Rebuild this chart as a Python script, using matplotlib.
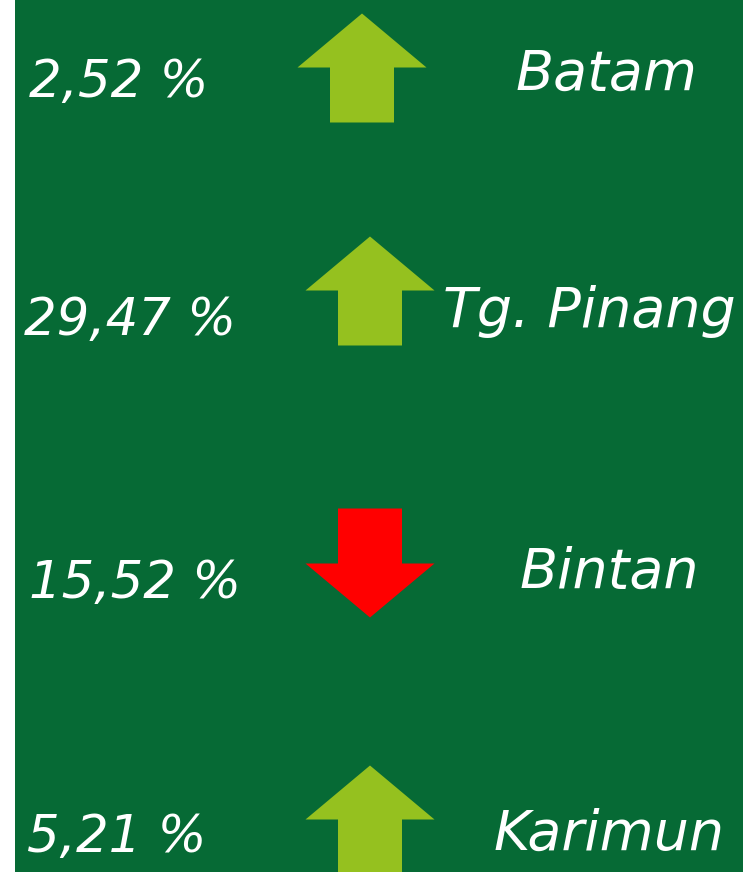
import matplotlib
matplotlib.use("Agg")
import matplotlib.pyplot as plt
from matplotlib.patches import Polygon, Rectangle

regions = ["Batam", "Tg. Pinang", "Bintan", "Karimun"]
values = ["2,52 %", "29,47 %", "15,52 %", "5,21 %"]
directions = ["up", "up", "down", "up"]

# layout (pixels)
W, H = 743, 872
row_y = [68, 291, 563, 820]
arrow_x = [362, 370, 370, 370]
value_y = [97, 335, 598, 852]
value_x = [119, 130, 135, 117]
name_y = [90, 327, 588, 850]
name_x = [607, 589, 609, 609]

BG = "#066a35"
UP = "#95c11f"
DOWN = "#ff0000"

fig = plt.figure(figsize=(W / 100, H / 100), dpi=100)
ax = fig.add_axes([0, 0, 1, 1])
ax.set_xlim(0, W)
ax.set_ylim(H, 0)
ax.axis("off")
fig.patch.set_facecolor("white")
ax.add_patch(Rectangle((15, 0), W - 15, H, facecolor=BG, edgecolor="none"))

head_half_w, shaft_half_w, half_h, head_h = 64.5, 32, 54.5, 54

def arrow(cx, cy, d):
    s = -1 if d == "up" else 1
    tip = cy + s * half_h
    base = cy - s * half_h
    hb = tip - s * head_h
    pts = [(cx, tip), (cx + head_half_w, hb), (cx + shaft_half_w, hb),
           (cx + shaft_half_w, base), (cx - shaft_half_w, base),
           (cx - shaft_half_w, hb), (cx - head_half_w, hb)]
    return Polygon(pts, closed=True, facecolor=UP if d == "up" else DOWN,
                   edgecolor="none")

font = dict(family=["DejaVu Sans"], style="oblique",
            weight="normal", color="white")

for i in range(len(regions)):
    ax.add_patch(arrow(arrow_x[i], row_y[i], directions[i]))
    ax.text(value_x[i], value_y[i], values[i], ha="center", va="baseline",
            fontsize=37, **font)
    ax.text(name_x[i], name_y[i], regions[i], ha="center", va="baseline",
            fontsize=40, **font)

fig.savefig("out.png", dpi=100, facecolor="white")
